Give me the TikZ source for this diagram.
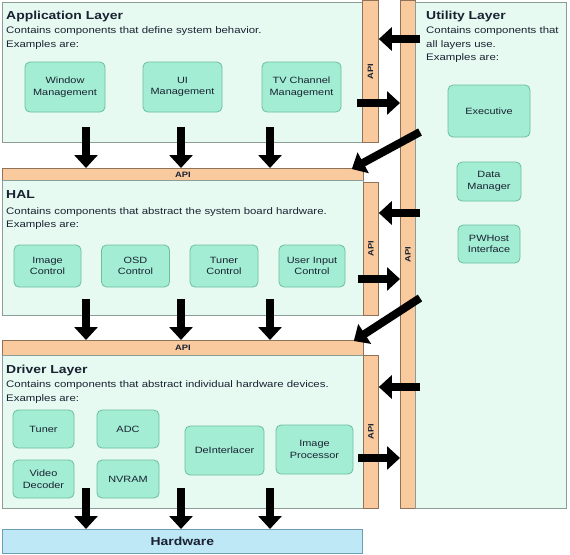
\documentclass[tikz,border=0pt]{standalone}
\usepackage{fontspec}
\setmainfont[FakeStretch=1.2]{Liberation Sans}
\usetikzlibrary{arrows.meta}

\definecolor{layerfill}{HTML}{E6FAF1}
\definecolor{layerline}{HTML}{8C9C96}
\definecolor{compfill}{HTML}{A2EDD3}
\definecolor{compline}{HTML}{6DBD9F}
\definecolor{apifill}{HTML}{F9CA9D}
\definecolor{apiline}{HTML}{8E7358}
\definecolor{hwfill}{HTML}{BEE8F5}
\definecolor{hwline}{HTML}{6E9EB4}
\definecolor{inktext}{HTML}{1A2232}

\tikzset{
  layer/.style={draw=layerline, fill=layerfill, line width=0.8pt, anchor=north west, inner sep=0pt},
  api/.style={draw=apiline, fill=apifill, line width=0.8pt, anchor=north west, inner sep=0pt},
  apitext/.style={font=\bfseries\fontsize{7.8}{8}\selectfont, text=inktext, inner sep=0pt},
  comp/.style={draw=compline, fill=compfill, rounded corners=5pt, line width=0.8pt,
    align=center, text=inktext, inner sep=0pt, font=\fontsize{9.1}{11.5}\selectfont},
  title/.style={anchor=base west, inner sep=0pt, text=inktext, font=\bfseries\fontsize{11.6}{14}\selectfont},
  desc/.style={anchor=base west, inner sep=0pt, text=inktext, font=\fontsize{9.5}{11}\selectfont},
  bigarrow/.style={line width=8pt, -{Triangle[width=23pt,length=13pt]}},
}

\begin{document}
\begin{tikzpicture}[x=1pt,y=-1pt]
\useasboundingbox (0,0) rectangle (570,554);

% layers and API bars
\node[layer, minimum width=360pt, minimum height=140pt] (app) at (2,2) {};
\node[api, minimum width=16pt, minimum height=142pt] (appapi) at (362,0) {};
\node[api, minimum width=361pt, minimum height=12pt] (halbus) at (2,168) {};
\node[layer, minimum width=361pt, minimum height=135pt] (hal) at (2,180) {};
\node[api, minimum width=15pt, minimum height=133pt] (halapi) at (363,182) {};
\node[api, minimum width=361pt, minimum height=15pt] (drvbus) at (2,340) {};
\node[layer, minimum width=361pt, minimum height=153pt] (drv) at (2,355) {};
\node[api, minimum width=15pt, minimum height=153pt] (drvapi) at (363,355) {};
\node[api, minimum width=15pt, minimum height=508pt] (utilapi) at (400,0) {};
\node[layer, minimum width=151pt, minimum height=506pt] (util) at (415,2) {};
\node[draw=hwline, fill=hwfill, line width=0.8pt, anchor=north west, inner sep=0pt,
  minimum width=360pt, minimum height=24pt, text=inktext,
  font=\bfseries\fontsize{11.6}{12}\selectfont] (hw) at (2,529) {Hardware};

% API labels
\node[apitext, rotate=90] (appapil) at (appapi.center) {API};
\node[apitext, rotate=90] (halapil) at (halapi.center) {API};
\node[apitext, rotate=90] (drvapil) at (drvapi.center) {API};
\node[apitext, rotate=90] (utilapil) at (utilapi.center) {API};
\node[apitext] (halbusl) at (halbus.center) {API};
\node[apitext] (drvbusl) at (drvbus.center) {API};

% titles
\node[title] (apptitle) at (6,19) {Application Layer};
\node[desc] (appdesc) at (6,33) {Contains components that define system behavior.};
\node[desc] (appex) at (6,47) {Examples are:};
\node[title] (haltitle) at (6,198) {HAL};
\node[desc] (haldesc) at (6,214) {Contains components that abstract the system board hardware.};
\node[desc] (halex) at (6,227) {Examples are:};
\node[title] (drvtitle) at (6,373) {Driver Layer};
\node[desc] (drvdesc) at (6,387) {Contains components that abstract individual hardware devices.};
\node[desc] (drvex) at (6,401) {Examples are:};
\node[title] (utiltitle) at (426,19) {Utility Layer};
\node[desc] (utildesc) at (426,33) {Contains components that};
\node[desc] (utildescb) at (426,47) {all layers use.};
\node[desc] (utilex) at (426,60) {Examples are:};

% components
\node[comp, minimum width=80pt, minimum height=50pt] (win) at (65,87) {Window\\Management};
\node[comp, minimum width=79pt, minimum height=50pt] (ui) at (182.5,87) {UI\\Management};
\node[comp, minimum width=79pt, minimum height=50pt] (tv) at (301.5,87) {TV Channel\\Management};

\node[comp, minimum width=67pt, minimum height=42pt] (imgctl) at (47.5,266) {Image\\Control};
\node[comp, minimum width=68pt, minimum height=42pt] (osd) at (135.5,266) {OSD\\Control};
\node[comp, minimum width=68pt, minimum height=42pt] (tunctl) at (224,266) {Tuner\\Control};
\node[comp, minimum width=66pt, minimum height=42pt] (usr) at (312,266) {User Input\\Control};

\node[comp, minimum width=61pt, minimum height=38pt] (tuner) at (43.5,429) {Tuner};
\node[comp, minimum width=62pt, minimum height=38pt] (adc) at (128,429) {ADC};
\node[comp, minimum width=61pt, minimum height=38pt] (vdec) at (43.5,479) {Video\\Decoder};
\node[comp, minimum width=62pt, minimum height=38pt] (nvram) at (128,479) {NVRAM};
\node[comp, minimum width=79pt, minimum height=49pt] (deint) at (224.5,450.5) {DeInterlacer};
\node[comp, minimum width=77pt, minimum height=49pt] (imgproc) at (314.5,449.5) {Image\\Processor};

\node[comp, minimum width=82pt, minimum height=52pt] (exec) at (489,111) {Executive};
\node[comp, minimum width=64pt, minimum height=39pt] (data) at (489,181.5) {Data\\Manager};
\node[comp, minimum width=62pt, minimum height=38pt] (pwhost) at (489,244) {PWHost\\Interface};

% arrow columns and rows
\coordinate (cola) at (86,0);
\coordinate (colb) at (181,0);
\coordinate (colc) at (270,0);
\coordinate (appin) at (0,39);
\coordinate (appout) at (0,103);
\coordinate (appdiag) at (0,132);
\coordinate (halin) at (0,213);
\coordinate (halout) at (0,279);
\coordinate (haldiag) at (0,298);
\coordinate (drvin) at (0,387);
\coordinate (drvout) at (0,458);

% down arrows
\foreach \c in {cola,colb,colc} {
  \draw[bigarrow] ([yshift=16pt]app.south -| \c) -- (halbus.north -| \c);
  \draw[bigarrow] ([yshift=17pt]hal.south -| \c) -- (drvbus.north -| \c);
  \draw[bigarrow] ([yshift=21pt]drv.south -| \c) -- (hw.north -| \c);
}

% arrows to and from the utility layer
\draw[bigarrow] ([xshift=5pt]util.west |- appin) -- (appapi.east |- appin);
\draw[bigarrow] ([xshift=-5pt]appapi.west |- appout) -- (utilapi.west |- appout);
\draw[bigarrow] ([xshift=5pt]util.west |- appdiag) -- ([xshift=-12pt,yshift=-1pt]halbus.north east);
\draw[bigarrow] ([xshift=5pt]util.west |- halin) -- (halapi.east |- halin);
\draw[bigarrow] ([xshift=-5pt]halapi.west |- halout) -- (utilapi.west |- halout);
\draw[bigarrow] ([xshift=5pt]util.west |- haldiag) -- ([xshift=-10pt,yshift=-1pt]drvbus.north east);
\draw[bigarrow] ([xshift=5pt]util.west |- drvin) -- (drvapi.east |- drvin);
\draw[bigarrow] ([xshift=-5pt]drvapi.west |- drvout) -- (utilapi.west |- drvout);
\end{tikzpicture}
\end{document}
